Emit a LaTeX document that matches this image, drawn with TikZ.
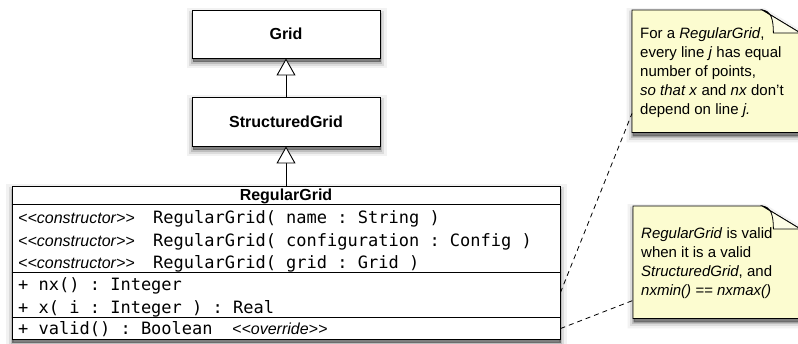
\documentclass[tikz,border=0pt]{standalone}
\usepackage{fontspec}
\setmainfont{Liberation Sans}
\setmonofont{DejaVu Sans Mono}
\usetikzlibrary{arrows.meta,shadows,calc}
\definecolor{notefill}{RGB}{252,252,208}
\definecolor{flapfill}{RGB}{253,253,230}
\newcommand{\ster}[1]{<{}<#1>{}>}
\tikzset{
  softshadow/.style={
    general shadow={shadow xshift=0.5bp, shadow yshift=-4bp, fill=black, draw=black, line width=12bp, opacity=0.05},
    general shadow={shadow xshift=0.5bp, shadow yshift=-4bp, fill=black, draw=black, line width=7bp, opacity=0.09},
    general shadow={shadow xshift=0.5bp, shadow yshift=-4bp, fill=black, draw=black, line width=3bp, opacity=0.14},
    general shadow={shadow xshift=0.5bp, shadow yshift=-4bp, fill=black, opacity=0.22}},
  classbox/.style={draw=black, line width=0.9bp, fill=white, softshadow, minimum width=188bp, inner sep=0pt,
    font=\fontsize{16bp}{19bp}\selectfont\bfseries},
  bigbox/.style={draw=black, line width=0.9bp, fill=white, softshadow, inner sep=0pt},
  inherit/.style={-{Triangle[length=17bp,width=19bp,fill=white]}, line width=0.9bp},
  titletext/.style={anchor=base, inner sep=0pt, font=\fontsize{16bp}{19bp}\selectfont\bfseries},
  member/.style={anchor=base west, inner sep=0pt, font=\fontsize{17bp}{20bp}\selectfont\ttfamily},
  stereo/.style={anchor=base west, inner sep=0pt, font=\fontsize{16bp}{18bp}\selectfont\itshape},
  sepline/.style={line width=0.9bp},
  noteframe/.style={draw=black, line width=0.8bp, fill=notefill, softshadow},
  flap/.style={draw=black, line width=0.8bp, fill=flapfill},
  notearea/.style={inner sep=0pt, draw=none, fill=none},
  notetext/.style={anchor=north west, inner sep=0pt, align=left, font=\fontsize{15bp}{19bp}\selectfont},
  link/.style={dash pattern=on 5bp off 4bp, line width=0.8bp}
}
\begin{document}
\begin{tikzpicture}[x=1bp,y=-1bp]
\useasboundingbox (0,0) rectangle (798,343);

% class boxes
\node[classbox, minimum height=48bp] (grid) at (286,34) {Grid};
\node[classbox, minimum height=49bp] (sgrid) at (286,121.5) {StructuredGrid};
\node[bigbox, minimum width=548bp, minimum height=153bp] (rgrid) at (286,262.5) {};

% compartments of RegularGrid
\draw[sepline] ($(rgrid.north west)+(0,19)$) -- ($(rgrid.north east)+(0,19)$);
\draw[sepline] ($(rgrid.north west)+(0,87)$) -- ($(rgrid.north east)+(0,87)$);
\draw[sepline] ($(rgrid.north west)+(0,132)$) -- ($(rgrid.north east)+(0,132)$);

\node[titletext] (rgtitle) at ($(rgrid.north)+(0,15)$) {RegularGrid};

\node[stereo] (c1s) at (18,223.5) {\ster{constructor}};
\node[member] (c1) at (153,223.5) {RegularGrid( name : String )};
\node[stereo] (c2s) at (18,246) {\ster{constructor}};
\node[member] (c2) at (153,246) {RegularGrid( configuration : Config )};
\node[stereo] (c3s) at (18,268.5) {\ster{constructor}};
\node[member] (c3) at (153,268.5) {RegularGrid( grid : Grid )};

\node[member] (m1) at (18,290.5) {+ nx() : Integer};
\node[member] (m2) at (18,313) {+ x( i : Integer ) : Real};
\node[member] (m3) at (18,334) {+ valid() : Boolean};
\node[stereo] (m3s) at (232,334) {\ster{override}};

% inheritance
\draw[inherit] (sgrid.north) -- (grid.south);
\draw[inherit] (rgrid.north) -- (sgrid.south);

% note 1
\node[notearea, minimum width=168bp, minimum height=122bp, anchor=north west] (note1) at (632,10) {};
\path[noteframe] (note1.north west) -- ($(note1.north east)+(-38,0)$) -- ($(note1.north east)+(0,23)$)
  -- (note1.south east) -- (note1.south west) -- cycle;
\path[flap] ($(note1.north east)+(-38,0)$) .. controls ($(note1.north east)+(-30,1)$) and ($(note1.north east)+(-27,8)$) ..
  ($(note1.north east)+(-27,23)$) -- ($(note1.north east)+(0,23)$) -- cycle;
\node[notetext] (note1text) at ($(note1.north west)+(8,17)$)
  {For a \textit{RegularGrid},\\every line \textit{j} has equal\\number of points,\\\textit{so that x} and \textit{nx} don't\\depend on line \textit{j.}};

% note 2
\node[notearea, minimum width=167bp, minimum height=112bp, anchor=north west] (note2) at (633,206) {};
\path[noteframe] (note2.north west) -- ($(note2.north east)+(-38,0)$) -- ($(note2.north east)+(0,23)$)
  -- (note2.south east) -- (note2.south west) -- cycle;
\path[flap] ($(note2.north east)+(-38,0)$) .. controls ($(note2.north east)+(-30,1)$) and ($(note2.north east)+(-27,8)$) ..
  ($(note2.north east)+(-27,23)$) -- ($(note2.north east)+(0,23)$) -- cycle;
\node[notetext] (note2text) at ($(note2.north west)+(8,21.5)$)
  {\textit{RegularGrid} is valid\\when it is a valid\\\textit{StructuredGrid}, and\\\textit{nxmin() == nxmax()}};

% note links
\draw[link] ($(rgrid.north east)+(0,107)$) -- ($(note1.south west)+(0,-19)$);
\draw[link] ($(rgrid.north east)+(0,143)$) -- ($(note2.south west)+(0,-18)$);
\end{tikzpicture}
\end{document}
